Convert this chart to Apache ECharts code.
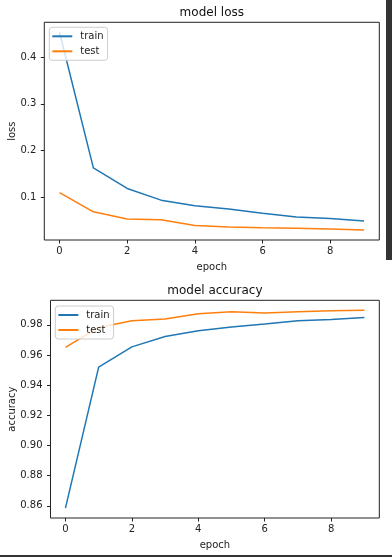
<!DOCTYPE html>
<html>
<head>
<meta charset="utf-8">
<script src="https://cdn.jsdelivr.net/npm/echarts@6/dist/echarts.min.js"></script>
<style>
html,body{margin:0;padding:0;background:#fff;}
#c{width:392px;height:557px;}
</style>
</head>
<body>
<div id="c"></div>
<script>
const epochs = [0,1,2,3,4,5,6,7,8,9];
const lossTrain = [0.453,0.163,0.119,0.094,0.082,0.075,0.066,0.058,0.055,0.0495];
const lossTest  = [0.110,0.069,0.0537,0.052,0.040,0.0367,0.035,0.034,0.0324,0.030];
const accTrain  = [0.8585,0.952,0.9654,0.9723,0.976,0.9785,0.9805,0.9827,0.9836,0.9849];
const accTest   = [0.965,0.9783,0.9827,0.9838,0.9873,0.9886,0.9878,0.9886,0.9893,0.9897];
const xTicks = [0,2,4,6,8];
const lossTicks = [0.1,0.2,0.3,0.4];
const accTicks = [0.86,0.88,0.90,0.92,0.94,0.96,0.98];

const FONT = 'DejaVu Sans';
const BLUE = '#1f77b4', ORANGE = '#ff7f0e';
const pairs = (ys) => epochs.map((e,i)=>[e, ys[i]]);
function pad(arr){const mn=Math.min(...arr),mx=Math.max(...arr),d=(mx-mn)*0.05;return [mn-d,mx+d];}
const lossExt = pad(lossTrain.concat(lossTest));
const accExt = pad(accTrain.concat(accTest));

function xAxis(gi){
  return {type:'value', gridIndex:gi, min:-0.45, max:9.45, position:'bottom',
    name:'epoch', nameLocation:'middle', nameGap:22, nameMoveOverlap:false,
    nameTextStyle:{fontFamily:FONT,fontSize:10,color:'#222'},
    axisLine:{show:false,onZero:false},
    axisTick:{show:true,length:3.5,lineStyle:{color:'#222',width:1},customValues:xTicks},
    axisLabel:{show:true,margin:6,fontFamily:FONT,fontSize:10,color:'#222',customValues:xTicks,formatter:v=>String(v)},
    splitLine:{show:false}};
}
function yAxis(gi,ext,ticks,name,gap,dec){
  return {type:'value', gridIndex:gi, min:ext[0], max:ext[1], position:'left',
    name:name, nameLocation:'middle', nameGap:gap, nameMoveOverlap:false,
    nameTextStyle:{fontFamily:FONT,fontSize:10,color:'#222'},
    axisLine:{show:false,onZero:false},
    axisTick:{show:true,length:3.5,lineStyle:{color:'#222',width:1},customValues:ticks},
    axisLabel:{show:true,margin:8,fontFamily:FONT,fontSize:10,color:'#222',customValues:ticks,formatter:v=>v.toFixed(dec)},
    splitLine:{show:false}};
}
function legend(gi,left,top){
  return {show:true, orient:'vertical', left:left, top:top,
    data:[{name:'train'+gi,icon:'rect'},{name:'test'+gi,icon:'rect'}],
    formatter:n=>n.replace(/\d+$/,''),
    itemWidth:20, itemHeight:2, itemGap:5,
    padding:[4,4,4,3],
    backgroundColor:'rgba(255,255,255,0.8)', borderColor:'#ccc', borderWidth:1, borderRadius:3,
    textStyle:{fontFamily:FONT,fontSize:10,color:'#222',padding:[0,0,0,3]}};
}
function line(name,gi,ys,color){
  return {type:'line', name:name, xAxisIndex:gi, yAxisIndex:gi, data:pairs(ys),
    showSymbol:false, symbol:'none', lineStyle:{color:color,width:1.5}, itemStyle:{color:color}, z:2};
}

const chart = echarts.init(document.getElementById('c'), null, {renderer:'canvas'});
chart.setOption({
  animation:false,
  backgroundColor:'#fff',
  grid:[
    {left:44.3, top:22.3, width:335, height:217.7, outerBoundsMode:'none', containLabel:false, show:true, borderColor:'#222', borderWidth:1, backgroundColor:'transparent'},
    {left:50.5, top:300.3, width:328.8, height:217.7, outerBoundsMode:'none', containLabel:false, show:true, borderColor:'#222', borderWidth:1, backgroundColor:'transparent'}
  ],
  xAxis:[xAxis(0), xAxis(1)],
  yAxis:[yAxis(0,lossExt,lossTicks,'loss',27,1), yAxis(1,accExt,accTicks,'accuracy',33,2)],
  legend:[legend(0,49.3,27.3), legend(1,55.3,306)],
  series:[
    line('train0',0,lossTrain,BLUE), line('test0',0,lossTest,ORANGE),
    line('train1',1,accTrain,BLUE), line('test1',1,accTest,ORANGE)
  ],
  graphic:[
    {type:'text', x:211.8, y:12.7, style:{text:'model loss', font:'12px "DejaVu Sans"', fill:'#111', textAlign:'center', textVerticalAlign:'middle'}},
    {type:'text', x:214.9, y:290.7, style:{text:'model accuracy', font:'12px "DejaVu Sans"', fill:'#111', textAlign:'center', textVerticalAlign:'middle'}},
    {type:'rect', shape:{x:386, y:0, width:6, height:260}, style:{fill:'#333'}},
    {type:'rect', shape:{x:0, y:555, width:392, height:2}, style:{fill:'#333'}}
  ]
});
</script>
</body>
</html>
